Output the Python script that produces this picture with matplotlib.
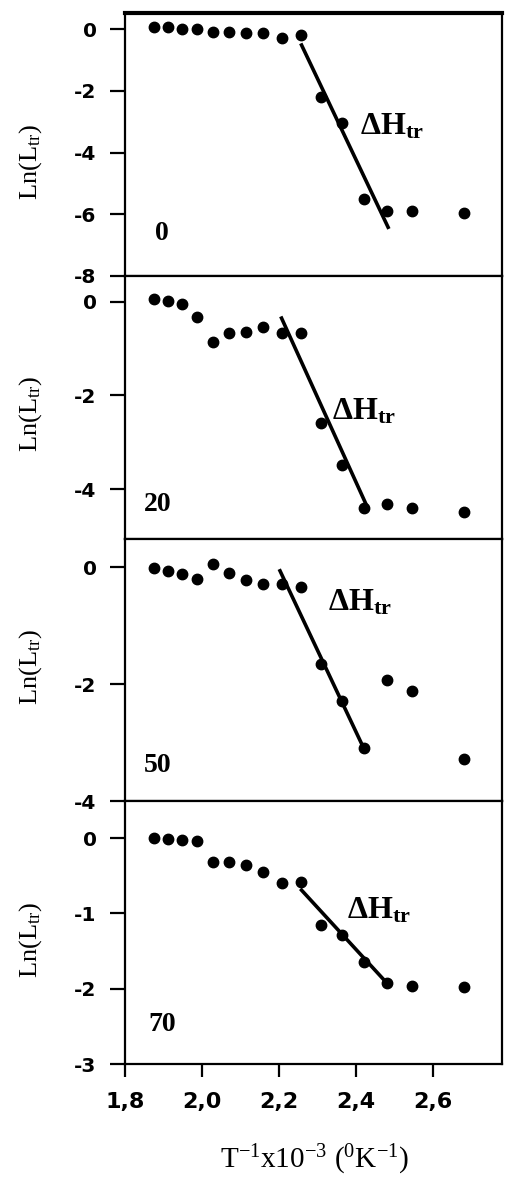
import matplotlib
matplotlib.use("Agg")
import matplotlib.pyplot as plt
from matplotlib.ticker import FuncFormatter

plt.rcParams['font.family'] = ['DejaVu Sans']
plt.rcParams['font.weight'] = 'bold'
plt.rcParams['axes.unicode_minus'] = False
plt.rcParams['mathtext.fontset'] = 'custom'
plt.rcParams['mathtext.rm'] = 'Liberation Serif:weight=normal'
plt.rcParams['mathtext.it'] = 'Liberation Serif:italic'
plt.rcParams['mathtext.bf'] = 'Liberation Serif:bold'

# inverse temperature, 1/T x 10^3
inv_t = [1.876, 1.912, 1.949, 1.988, 2.028, 2.070, 2.114, 2.160,
         2.208, 2.257, 2.309, 2.364, 2.421, 2.481, 2.545, 2.681]

ln_l0 = [0.07, 0.07, 0.02, 0.00, -0.08, -0.08, -0.11, -0.13,
         -0.27, -0.19, -2.19, -3.03, -5.51, -5.90, -5.90, -5.95]
ln_l20 = [0.05, 0.01, -0.04, -0.33, -0.86, -0.66, -0.64, -0.55,
          -0.66, -0.66, -2.58, -3.48, -4.41, -4.32, -4.40, -4.50]
ln_l50 = [-0.01, -0.06, -0.11, -0.20, 0.05, -0.09, -0.21, -0.29,
          -0.29, -0.34, -1.66, -2.28, -3.08, -1.92, -2.11, -3.28]
ln_l70 = [0.00, -0.01, -0.02, -0.04, -0.31, -0.31, -0.36, -0.45,
          -0.59, -0.58, -1.15, -1.28, -1.64, -1.93, -1.96, -1.98]

# transition line end points (x0, x1), (y0, y1)
fit_x = [[2.259, 2.484], [2.207, 2.428], [2.203, 2.419], [2.259, 2.480]]
fit_y = [[-0.51, -6.42], [-0.35, -4.35], [-0.06, -3.07], [-0.69, -1.92]]

labels = ['0', '20', '50', '70']
series = [ln_l0, ln_l20, ln_l50, ln_l70]
ylims = [(-8, 0.52), (-5.06, 0.55), (-4, 0.49), (-3, 0.49)]
yticks = [[0, -2, -4, -6, -8], [0, -2, -4], [0, -2, -4], [0, -1, -2, -3]]
dh_pos = [(2.410, -3.41), (2.337, -2.51), (2.328, -0.745), (2.376, -1.07)]
lab_pos = [(0.08, 0.136), (0.049, 0.107), (0.049, 0.113), (0.062, 0.124)]
ylab_y = [162, 414, 667, 940]

fig, axes = plt.subplots(4, 1, figsize=(5.05, 11.77), dpi=100, sharex=True)
fig.subplots_adjust(left=0.2475, right=0.994, top=0.9887, bottom=0.096, hspace=0)

for i, ax in enumerate(axes):
    ax.plot(inv_t, series[i], 'o', color='black', markersize=7.5)
    ax.plot(fit_x[i], fit_y[i], '-', color='black', linewidth=2.6)
    ax.set_ylim(*ylims[i])
    ax.set_yticks(yticks[i])
    ax.set_xlim(1.8, 2.78)
    for s in ax.spines.values():
        s.set_linewidth(1.6)
    ax.tick_params(axis='y', direction='out', length=10.5, width=1.6,
                   pad=10, labelsize=14.5)
    ax.tick_params(axis='x', bottom=(i == 3), labelbottom=(i == 3),
                   direction='out', length=9, width=1.6, pad=11, labelsize=16)
    ax.text(dh_pos[i][0], dh_pos[i][1], r'$\mathbf{\Delta H}_{\mathbf{tr}}$',
            fontsize=23, ha='left', va='baseline')
    ax.text(lab_pos[i][0], lab_pos[i][1], labels[i], transform=ax.transAxes,
            fontsize=20, fontweight='bold', family='Liberation Serif',
            ha='left', va='baseline')
    fig.text(31 / 505, 1 - ylab_y[i] / 1177, r'Ln(L$_{\mathrm{tr}}$)',
             family='Liberation Serif', fontweight='normal', fontsize=19,
             rotation=90, ha='center', va='center')

axes[0].spines['top'].set_linewidth(3)
axes[3].set_xticks([1.8, 2.0, 2.2, 2.4, 2.6])
axes[3].xaxis.set_major_formatter(FuncFormatter(lambda v, p: f'{v:.1f}'.replace('.', ',')))

fig.text(315 / 505, 0.0145, r'T$^{-1}$x10$^{-3}$ ($^{0}$K$^{-1}$)',
         family='Liberation Serif', fontweight='normal', fontsize=21,
         ha='center', va='center')

fig.savefig('out.png', dpi=100)
